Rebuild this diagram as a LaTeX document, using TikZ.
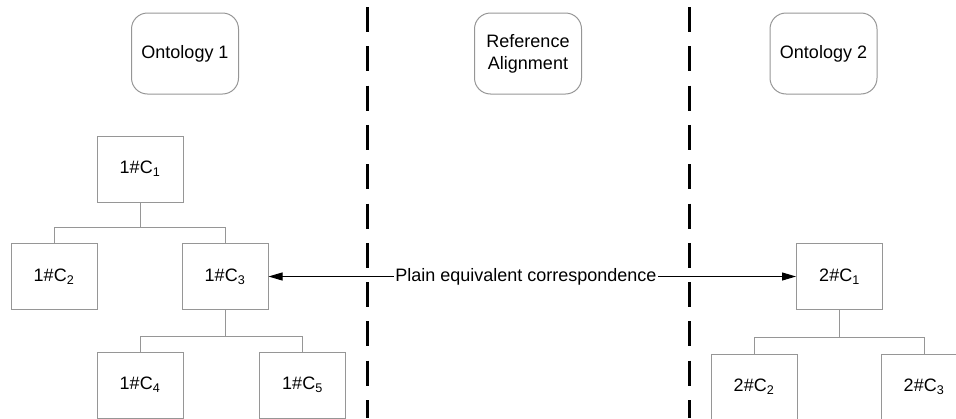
\documentclass[tikz,border=0pt]{standalone}
\usepackage{fontspec}
\setmainfont{Liberation Sans}
\usetikzlibrary{arrows.meta}
\definecolor{boxgray}{RGB}{150,150,150}
\tikzset{
  header/.style={draw=boxgray, line width=1pt, rounded corners=16pt,
    minimum width=107pt, minimum height=81pt, align=center, inner sep=2pt,
    font=\fontsize{18}{21}\selectfont},
  concept/.style={draw=boxgray, line width=1pt, minimum width=86pt,
    minimum height=66pt, inner sep=0pt, font=\fontsize{18}{21}\selectfont},
  tree/.style={draw=boxgray, line width=1pt},
  divider/.style={line width=3pt, dash pattern=on 25pt off 14.3pt},
  corr/.style={line width=1pt, {Triangle[length=14pt,width=8pt]}-{Triangle[length=14pt,width=8pt]}}
}
\begin{document}
\begin{tikzpicture}[x=1pt,y=-1pt]
\useasboundingbox (0,0) rectangle (956,418);

% column headers
\node[header] (onto1) at (185,53.5) {Ontology 1};
\node[header] (refal) at (528,53.5) {Reference\\[1pt]Alignment};
\node[header] (onto2) at (823.5,53.5) {Ontology 2};

% column dividers
\coordinate (d1top) at (367,7);
\coordinate (d1bot) at (367,418);
\coordinate (d2top) at (689,7);
\coordinate (d2bot) at (689,418);
\draw[divider] (d1top) -- (d1bot);
\draw[divider] (d2top) -- (d2bot);

% ontology 1 hierarchy
\node[concept] (c11) at (140,169) {1\#C\textsubscript{1}};
\node[concept] (c12) at (54,276.5) {1\#C\textsubscript{2}};
\node[concept] (c13) at (225,276.5) {1\#C\textsubscript{3}};
\node[concept] (c14) at (140,385) {1\#C\textsubscript{4}};
\node[concept] (c15) at (302.5,385) {1\#C\textsubscript{5}};

\draw[tree] (c11.south) -- ++(0,25) -| (c12.north);
\draw[tree] (c11.south) -- ++(0,25) -| (c13.north);
\draw[tree] (c13.south) -- ++(0,26) -| (c14.north);
\draw[tree] (c13.south) -- ++(0,26) -| (c15.north);

% ontology 2 hierarchy
\node[concept] (c21) at (839.5,276.5) {2\#C\textsubscript{1}};
\node[concept] (c22) at (754,387) {2\#C\textsubscript{2}};
\node[concept] (c23) at (924,387) {2\#C\textsubscript{3}};

\draw[tree] (c21.south) -- ++(0,27.5) -| (c22.north);
\draw[tree] (c21.south) -- ++(0,27.5) -| (c23.north);

% correspondence
\draw[corr] (c13.east) -- node[pos=0.488, fill=white, inner sep=1pt,
  font=\fontsize{18}{21}\selectfont] (lbl) {Plain equivalent correspondence} (c21.west);
\end{tikzpicture}
\end{document}
